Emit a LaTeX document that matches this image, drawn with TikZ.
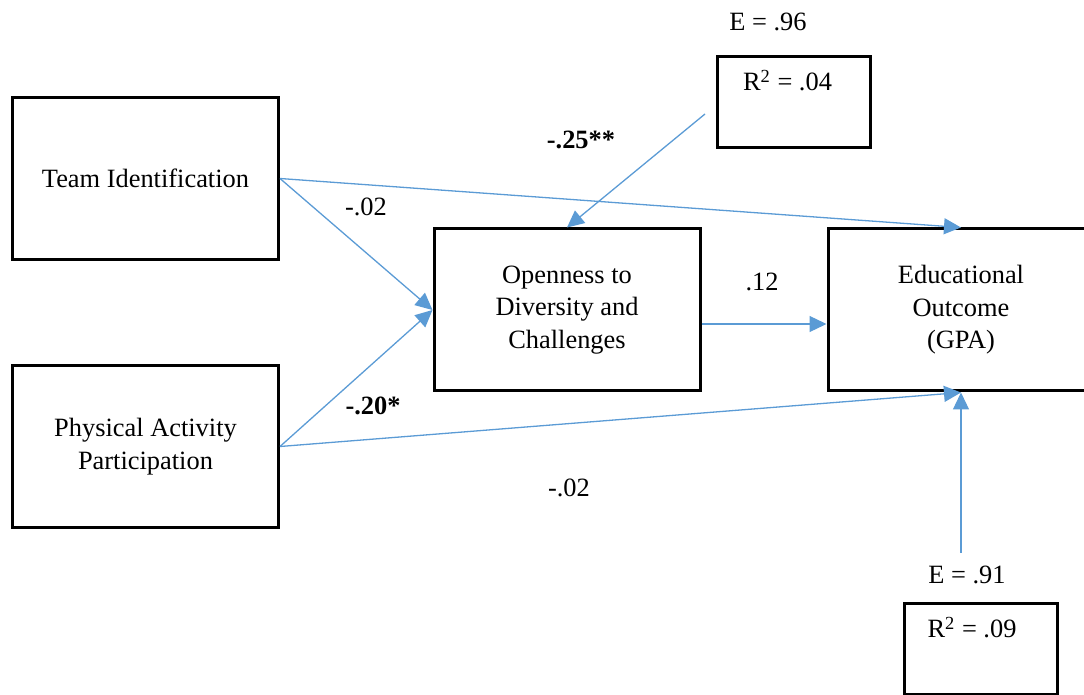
\documentclass[tikz,border=0pt]{standalone}
\usepackage{fontspec}
\setmainfont{Liberation Serif}
\usetikzlibrary{arrows.meta}
\definecolor{pathblue}{RGB}{91,155,213}

\begin{document}
\begin{tikzpicture}[x=0.5pt,y=-0.5pt,
        font=\fontsize{13.2}{16.25}\selectfont,
        var/.style={draw,line width=1.5pt,minimum width=133pt,minimum height=81pt,
            align=center,inner sep=0pt},
        resid/.style={draw,line width=1.5pt,minimum width=76.5pt,minimum height=45.5pt,
            inner sep=0pt},
        effect/.style={pathblue,line width=0.65pt,-{Triangle[length=8.5pt,width=8pt]}}]
    \useasboundingbox (0,0) rectangle (1084,695);

    % variables
    \node[var] (team) at (145.5,178.5) {Team Identification};
    \node[var] (phys) at (145.5,446.5) {Physical Activity\\Participation};
    \node[var] (open) at (567,310) {Openness to\\Diversity and\\Challenges};
    \node[var] (educ) at (961,310) {Educational\\Outcome\\(GPA)};

    % residual boxes
    \node[resid] (r1) at (794,102) {};
    \node[anchor=base west] (r1txt) at ([xshift=10pt,yshift=-18pt]r1.north west)
        {R\textsuperscript{2} = .04};
    \node (e1txt) at (768,22) {E = .96};
    \node[resid] (r2) at (980.5,649) {};
    \node[anchor=base west] (r2txt) at ([xshift=9pt,yshift=-18pt]r2.north west)
        {R\textsuperscript{2} = .09};
    \node (e2txt) at (967,575) {E = .91};
    \coordinate (e1) at (705,114);
    \coordinate (e2) at (961,553);

    % paths
    \draw[effect] (team.east) -- (open.west);
    \draw[effect] (phys.east) -- (open.west);
    \draw[effect] (team.east) -- (educ.north);
    \draw[effect] (phys.east) -- (educ.south);
    \draw[effect] ([yshift=-7pt]open.east) -- ([yshift=-7pt]educ.west);
    \draw[effect] (e1) -- (open.north);
    \draw[effect] (e2) -- (educ.south);

    % coefficients
    \node (c1) at (366,207) {-.02};
    \node (c2) at (581,140) {\textbf{-.25**}};
    \node (c3) at (762,282) {.12};
    \node (c4) at (373,406) {\textbf{-.20*}};
    \node (c5) at (569,488) {-.02};
\end{tikzpicture}
\end{document}
